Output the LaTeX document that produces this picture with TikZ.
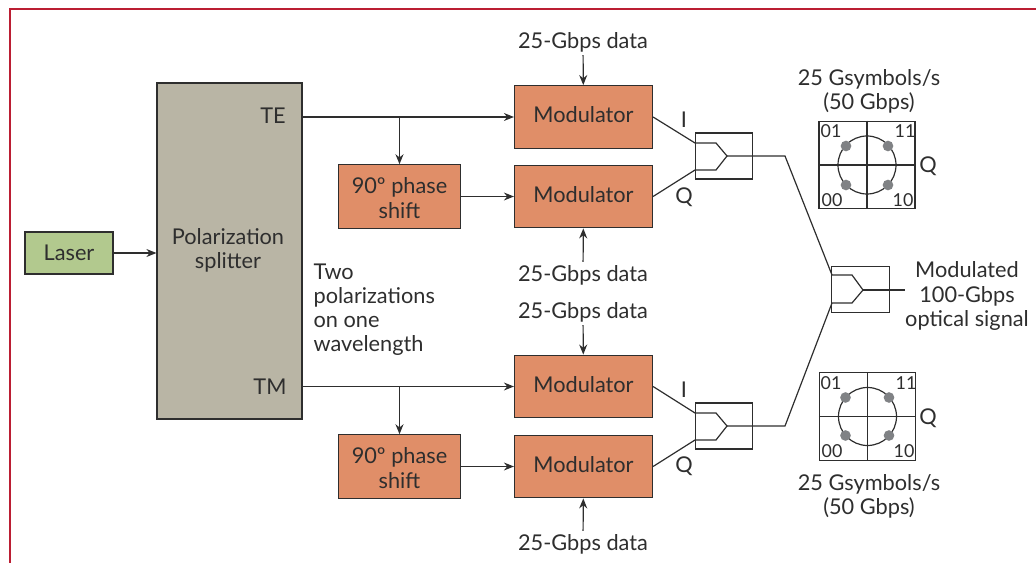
\documentclass[tikz,border=0pt]{standalone}
\usepackage{fontspec}
\setmainfont{Lato}
\usetikzlibrary{arrows.meta}
\definecolor{framered}{HTML}{BB1E33}
\definecolor{inkgray}{HTML}{2E2E2E}
\definecolor{lasergreen}{HTML}{B2C98E}
\definecolor{splittergray}{HTML}{B9B5A5}
\definecolor{modorange}{HTML}{E08E68}
\definecolor{dotgray}{HTML}{808285}

\begin{document}
\begin{tikzpicture}[x=0.75pt,y=-0.75pt,>={Stealth[length=7.5pt,width=6pt]},line width=0.9pt,draw=inkgray,
        every node/.style={font=\fontsize{16.3}{18.2}\selectfont,text=inkgray},
        box node/.style={rectangle,draw=inkgray,line width=0.9pt,inner sep=0pt,align=center},
        mod node/.style={box node,fill=modorange,minimum width=103.5pt,minimum height=47pt,text height=11.5pt,text depth=3pt},
        phase node/.style={box node,fill=modorange,minimum width=92pt,minimum height=47.5pt},
        merge node/.style={box node,minimum width=43pt,minimum height=34.5pt},
        map node/.style={box node,minimum width=72pt,minimum height=65.5pt},
        ring node/.style={circle,draw=inkgray,line width=0.9pt,inner sep=0pt,minimum size=43.5pt},
        dot node/.style={circle,fill=dotgray,inner sep=0pt,minimum size=8pt},
        bit node/.style={inner sep=0pt,font=\fontsize{13.4}{15}\selectfont},
        text node/.style={inner sep=0pt,align=center}]

    \useasboundingbox (0,0) rectangle (1036,563);
    \draw [framered,line width=1.5pt] (10,563) -- (10,9) -- (1036,9);

    \node[box node,fill=lasergreen,minimum width=66pt,minimum height=31.5pt] (laser) at (69,253) {Laser};
    \node[box node,fill=splittergray,minimum width=108.75pt,minimum height=252pt] (splitter) at (229.5,251) {};
    \node[text node] (split text) at (228,250) {Polarization\\splitter};
    \node[text node] (te) at (273,116) {TE};
    \node[text node] (tm) at (270,387) {TM};
    \node[text node,align=left,anchor=north west] (two pol) at (313,263) {Two\\polarizations\\on one\\wavelength};

    \node[mod node] (mod a) at (583.5,117) {Modulator};
    \node[mod node] (mod b) at (583.5,196.5) {Modulator};
    \node[mod node] (mod c) at (583.5,386.5) {Modulator};
    \node[mod node] (mod d) at (583.5,466.5) {Modulator};
    \node[phase node] (phase a) at (399.5,196.5) {};
    \node[phase node] (phase b) at (399.5,466.5) {};
    \node[text node] (phase a text) at (399.5,198) {90º phase\\shift};
    \node[text node] (phase b text) at (399.5,468) {90º phase\\shift};

    \node[text node] (data a) at (583,42) {25-Gbps data};
    \node[text node] (data b) at (583,275) {25-Gbps data};
    \node[text node] (data c) at (583,312) {25-Gbps data};
    \node[text node] (data d) at (583,544) {25-Gbps data};

    \draw [->] (laser) -- (laser -| splitter.west);
    \draw [->] (splitter.east |- mod a) -- (mod a);
    \draw [->] (splitter.east |- mod c) -- (mod c);
    \draw [->] (phase a |- mod a) -- (phase a);
    \draw [->] (phase b |- mod c) -- (phase b);
    \draw [->] (phase a) -- (mod b);
    \draw [->] (phase b) -- (mod d);
    \draw [->,shorten <=2pt] (data a) -- (mod a);
    \draw [->,shorten <=2pt] (data b) -- (mod b);
    \draw [->,shorten <=2pt] (data c) -- (mod c);
    \draw [->,shorten <=2pt] (data d) -- (mod d);

    % combiners
    \node[merge node] (merge a) at (724,156) {};
    \node[merge node] (merge b) at (724,426) {};
    \node[merge node] (merge c) at (860.5,289.5) {};
    \coordinate (gate a i) at (695,143);
    \coordinate (gate a q) at (695,170);
    \coordinate (gate b i) at (695,413);
    \coordinate (gate b q) at (695,440);
    \coordinate (gate c i) at (832,275);
    \coordinate (gate c q) at (832,303);
    \coordinate (bend a) at (785,156);
    \coordinate (bend b) at (785,426);
    \coordinate (out c) at (905,290);

    \draw (mod a.east) -- (gate a i) -- (716,143) -- (727,156) -- (716,170) -- (gate a q) -- (mod b.east);
    \draw (mod c.east) -- (gate b i) -- (716,413) -- (727,426) -- (716,440) -- (gate b q) -- (mod d.east);
    \draw (727,156) -- (bend a) -- (gate c i) -- (852,275) -- (863,290) -- (852,303) -- (gate c q) -- (bend b) -- (727,426);
    \draw (863,290) -- (out c);

    \node[text node] (i a) at (684,120) {I};
    \node[text node] (q a) at (684,197) {Q};
    \node[text node] (i b) at (684,390) {I};
    \node[text node] (q b) at (684,466) {Q};
    \node[text node] (out text) at (967,296) {Modulated\\100-Gbps\\optical signal};

    % upper constellation
    \node[text node] (rate a) at (869,91) {25 Gsymbols/s\\(50 Gbps)};
    \node[map node] (map a) at (867,165) {};
    \node[ring node] (ring a) at (867,165) {};
    \draw (map a.north) -- (map a.south);
    \draw (map a.west) -- (map a.east);
    \node[dot node] (dot a) at (846,146) {};
    \node[dot node] (dot b) at (888,146) {};
    \node[dot node] (dot c) at (846,185) {};
    \node[dot node] (dot d) at (888,185) {};
    \node[bit node] (bit a) at (831,131) {01};
    \node[bit node] (bit b) at (905,131) {11};
    \node[bit node] (bit c) at (832,200) {00};
    \node[bit node] (bit d) at (903,200) {10};
    \node[text node] (axis a) at (928,166) {Q};

    % lower constellation
    \node[text node] (rate b) at (869,496) {25 Gsymbols/s\\(50 Gbps)};
    \node[map node] (map b) at (867.5,416.5) {};
    \node[ring node] (ring b) at (867.5,416.5) {};
    \draw (map b.north) -- (map b.south);
    \draw (map b.west) -- (map b.east);
    \node[dot node] (dot e) at (845.5,397.5) {};
    \node[dot node] (dot f) at (889,397.5) {};
    \node[dot node] (dot g) at (845.5,435.5) {};
    \node[dot node] (dot h) at (889,435.5) {};
    \node[bit node] (bit e) at (831,383) {01};
    \node[bit node] (bit f) at (906,383) {11};
    \node[bit node] (bit g) at (832,451) {00};
    \node[bit node] (bit h) at (904,451) {10};
    \node[text node] (axis b) at (928,418) {Q};
\end{tikzpicture}
\end{document}
